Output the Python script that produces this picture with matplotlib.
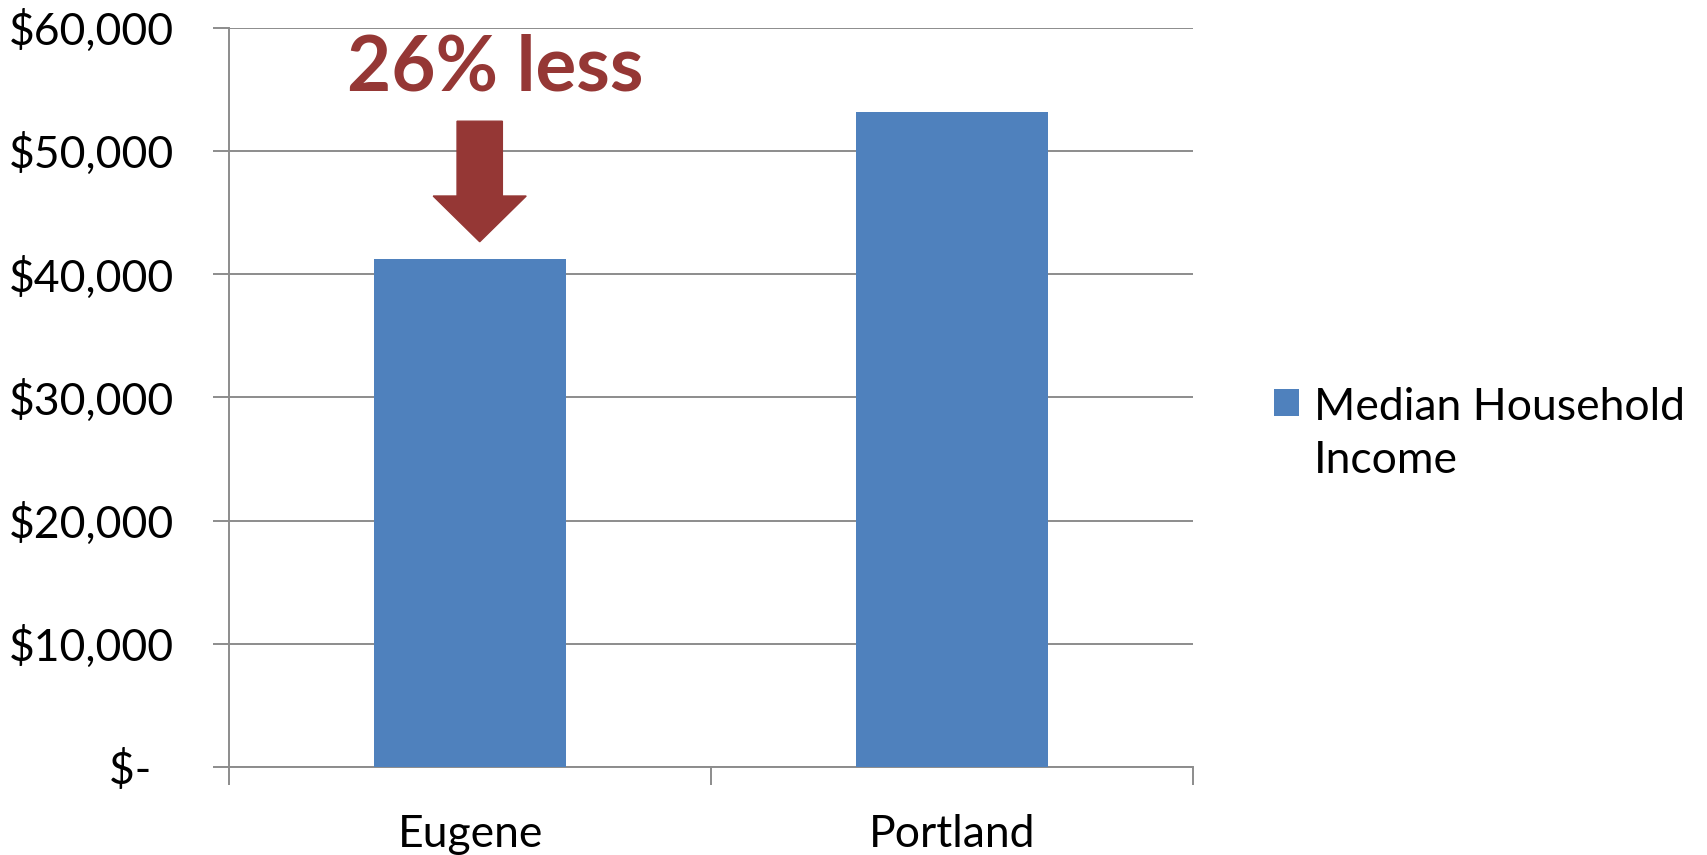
import matplotlib
matplotlib.use("Agg")
import matplotlib.pyplot as plt
from matplotlib.patches import FancyArrow, Rectangle
from matplotlib.container import BarContainer
from matplotlib.legend_handler import HandlerPatch, update_from_first_child
from matplotlib.ticker import FixedLocator, FuncFormatter

# Data
cities = ["Eugene", "Portland"]
median_income = [41200, 53150]
series_name = "Median Household\nIncome"
y_ticks = [0, 10000, 20000, 30000, 40000, 50000, 60000]
callout_text = "26% less"

bar_color = "#4F81BD"
accent = "#953735"
grid_color = "#8C8C8C"
font = "Lato"
label_size = 32

fig = plt.figure(figsize=(17.07, 8.55), dpi=100)
ax = fig.add_axes([0.1342, 0.1029, 0.6989 - 0.1342, 0.9678 - 0.1029])

x = list(range(len(cities)))
ax.bar(x, median_income, width=0.4, color=bar_color, label=series_name, zorder=3)

ax.set_xlim(-0.5, len(cities) - 0.5)
ax.set_ylim(0, 60000)

# y axis: currency labels, gridlines at every tick
def money(v, pos):
    return "$-  " if v == 0 else f"${v:,.0f}"

ax.yaxis.set_major_locator(FixedLocator(y_ticks))
ax.yaxis.set_major_formatter(FuncFormatter(money))
ax.yaxis.grid(True, color=grid_color, linewidth=1.4, zorder=0)
ax.tick_params(axis="y", direction="out", length=11.5, width=1.4, color=grid_color,
               pad=28, labelsize=label_size)

# x axis: labels at category centres, tick marks at category boundaries
ax.set_xticks(x)
ax.set_xticklabels(cities)
ax.set_xticks([i - 0.5 for i in range(len(cities) + 1)], minor=True)
ax.tick_params(axis="x", which="major", length=0, pad=34, labelsize=label_size)
ax.tick_params(axis="x", which="minor", direction="out", length=13, width=1.4,
               color=grid_color)

for side in ("top", "right"):
    ax.spines[side].set_visible(False)
for side in ("left", "bottom"):
    ax.spines[side].set_color(grid_color)
    ax.spines[side].set_linewidth(1.4)
ax.set_axisbelow(True)

for lab in ax.get_xticklabels() + ax.get_yticklabels():
    lab.set_fontfamily(font)

# Callout above the Eugene bar
arrow_x = 0.02
arrow_top = 52400
head_start = 46330
arrow_tip = 42620
ax.add_patch(FancyArrow(arrow_x, arrow_top, 0, arrow_tip - arrow_top,
                        width=0.094, head_width=0.193, head_length=head_start - arrow_tip,
                        length_includes_head=True, color=accent, zorder=4))
ax.text(0.053, 54930, callout_text, color=accent, fontsize=55, fontweight="bold",
        fontfamily=font, ha="center", va="baseline", zorder=5)


# Legend swatch sits beside the first line of the two-line label
def first_line_swatch(legend, orig_handle, xdescent, ydescent, width, height, fontsize):
    return Rectangle((-xdescent, -ydescent + 0.73 * fontsize), width, height)


swatch_handler = HandlerPatch(patch_func=first_line_swatch,
                              update_func=update_from_first_child)
leg = ax.legend(loc="center left", bbox_to_anchor=(1.042, 0.45), frameon=False,
                prop={"family": font, "size": label_size}, handlelength=0.58,
                handleheight=0.58, handletextpad=0.32,
                handler_map={BarContainer: swatch_handler})
for t in leg.get_texts():
    t.set_linespacing(1.35)

fig.savefig("out.png", dpi=100, facecolor="white")
